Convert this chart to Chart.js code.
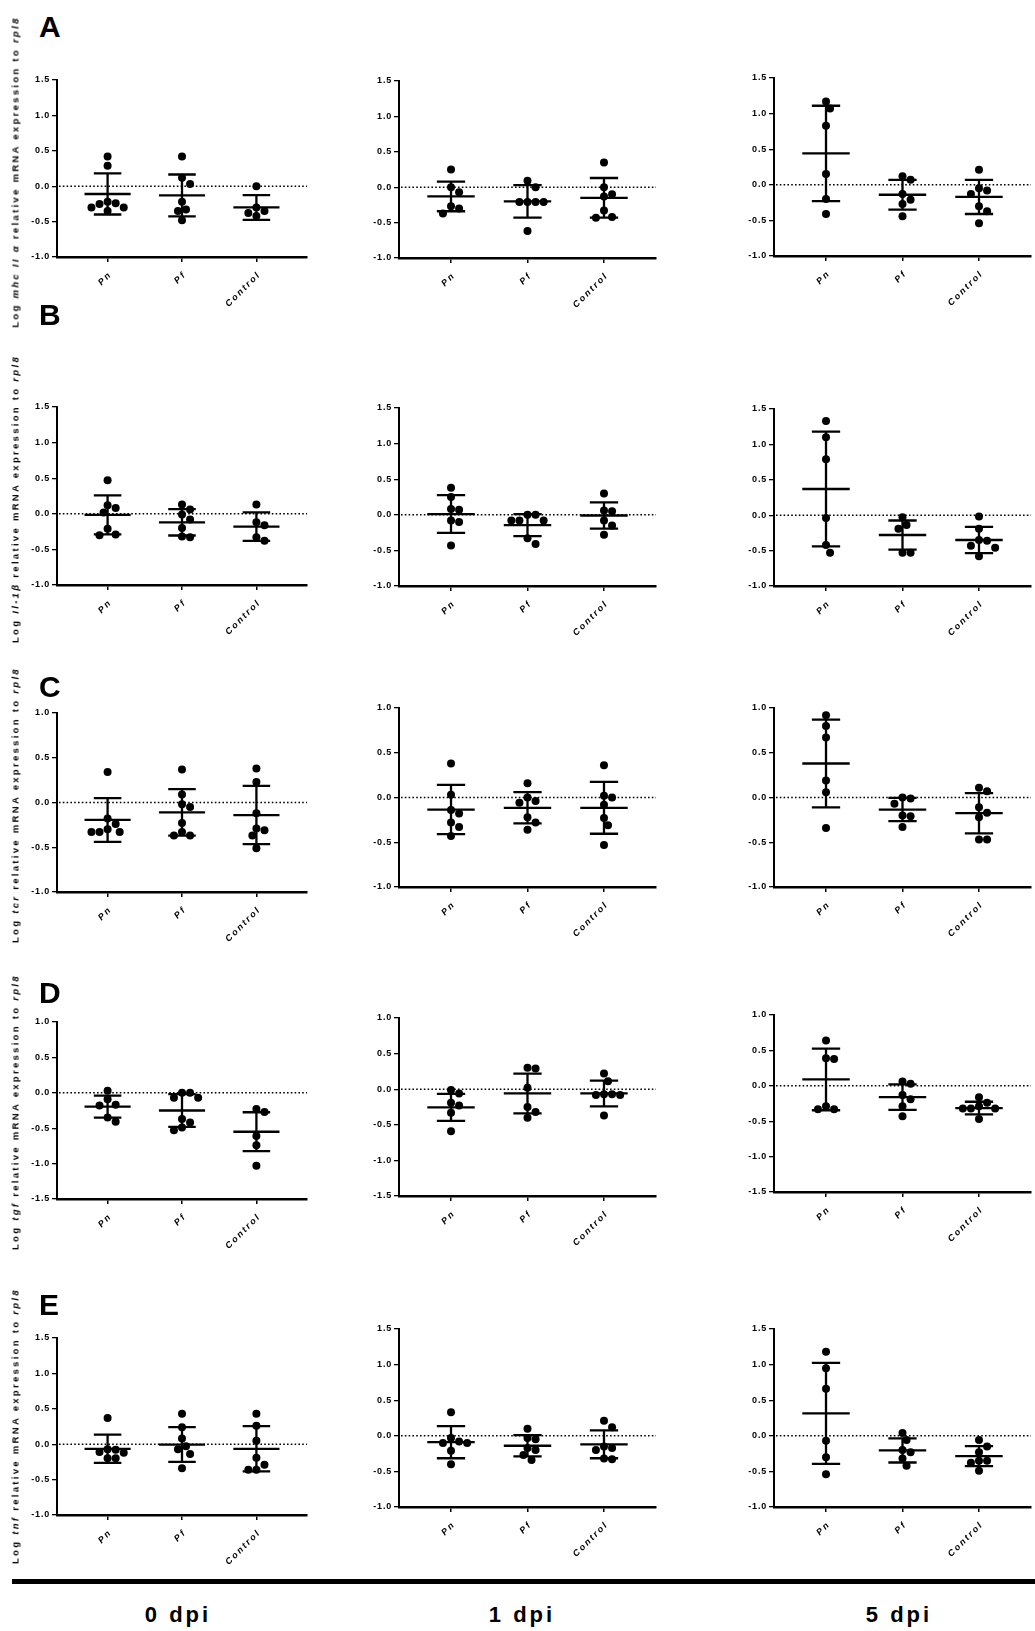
<!DOCTYPE html>
<html>
<head>
<meta charset="utf-8">
<script src="https://cdn.jsdelivr.net/npm/chart.js@4.4.0/dist/chart.umd.min.js"></script>
<style>
  body { margin: 0; background: #fff; width: 1035px; height: 1631px; position: relative; overflow: hidden;
         font-family: "Liberation Sans", Arial, sans-serif; }
  canvas.panel { position: absolute; }
  .letter { position: absolute; font-weight: bold; font-size: 30px; line-height: 1; }
  .ylab { position: absolute; white-space: nowrap; font-weight: bold; font-size: 9.5px; letter-spacing: 2.3px;
          transform: translate(-50%, -50%) rotate(-90deg); }
  .ylab i { font-style: italic; }
  .rule { position: absolute; left: 12px; right: 0; top: 1579px; height: 5px; background: #000; }
  .dpi { position: absolute; top: 1602px; font-weight: bold; font-size: 22px; letter-spacing: 3px;
         transform: translateX(-50%); white-space: nowrap; }
</style>
</head>
<body>
<script>
// ---- data ----
const groups = ["Pn", "Pf", "Control"];
const timepoints = ["0 dpi", "1 dpi", "5 dpi"];
const panelLetters = ["A", "B", "C", "D", "E"];

// y ranges per row
const yMins = [-1.0, -1.0, -1.0, -1.5, -1.0];
const yMaxs = [1.5, 1.5, 1.0, 1.0, 1.5];

// mhc II alpha
const mhc0 = [[0.42, 0.29, -0.24, -0.30, -0.35, -0.30, -0.25, -0.22], [0.42, 0.12, 0.03, -0.22, -0.33, -0.35, -0.48], [0.0, -0.35, -0.42, -0.38, -0.30]];
const mhc1 = [[0.25, 0.0, -0.07, -0.27, -0.30, -0.37], [0.09, 0.0, -0.21, -0.21, -0.21, -0.21, -0.62], [0.35, 0.0, -0.10, -0.13, -0.33, -0.42, -0.43]];
const mhc5 = [[1.17, 1.07, 0.83, 0.15, -0.20, -0.41], [0.12, 0.07, -0.13, -0.21, -0.27, -0.44], [0.21, -0.05, -0.08, -0.13, -0.30, -0.37, -0.54]];
const mhc0Mean = [-0.11, -0.13, -0.30], mhc0Sd = [0.29, 0.295, 0.175];
const mhc1Mean = [-0.13, -0.20, -0.15], mhc1Sd = [0.21, 0.23, 0.28];
const mhc5Mean = [0.44, -0.14, -0.17], mhc5Sd = [0.67, 0.21, 0.24];

// il-1 beta
const il0 = [[0.47, 0.12, 0.08, 0.02, -0.21, -0.30, -0.29], [0.13, 0.06, -0.01, -0.08, -0.20, -0.33, -0.32], [0.13, -0.12, -0.16, -0.38, -0.33]];
const il1 = [[0.38, 0.25, 0.08, 0.07, -0.08, -0.10, -0.43], [0.0, -0.08, -0.08, -0.08, 0.0, -0.33, -0.41], [0.30, 0.06, 0.05, -0.08, -0.15, -0.28]];
const il5 = [[1.33, 1.10, 0.79, -0.04, -0.42, -0.53], [-0.03, -0.19, -0.14, -0.53, -0.53], [-0.02, -0.19, -0.43, -0.35, -0.36, -0.46, -0.58]];
const il0Mean = [-0.015, -0.12, -0.18], il0Sd = [0.275, 0.185, 0.20];
const il1Mean = [0.01, -0.145, -0.01], il1Sd = [0.265, 0.155, 0.185];
const il5Mean = [0.37, -0.28, -0.35], il5Sd = [0.81, 0.205, 0.185];

// tcr
const tcr0 = [[0.34, -0.18, -0.24, -0.33, -0.33, -0.33, -0.30], [0.37, 0.09, -0.02, -0.05, -0.23, -0.33, -0.37, -0.37], [0.38, 0.23, -0.12, -0.31, -0.29, -0.37, -0.51]];
const tcr1 = [[0.38, 0.03, -0.18, -0.14, -0.28, -0.33, -0.43], [0.16, -0.04, -0.06, 0.0, -0.22, -0.28, -0.36], [0.36, 0.02, 0.0, -0.08, -0.23, -0.31, -0.53]];
const tcr5 = [[0.92, 0.80, 0.67, 0.19, 0.06, -0.34], [0.0, -0.01, -0.07, -0.20, -0.21, -0.33], [0.07, 0.11, -0.11, -0.17, -0.22, -0.47, -0.47]];
const tcr0Mean = [-0.195, -0.11, -0.14], tcr0Sd = [0.245, 0.26, 0.325];
const tcr1Mean = [-0.135, -0.115, -0.115], tcr1Sd = [0.275, 0.175, 0.29];
const tcr5Mean = [0.38, -0.135, -0.175], tcr5Sd = [0.49, 0.13, 0.225];

// tgf
const tgf0 = [[0.03, -0.09, -0.17, -0.18, -0.35, -0.41], [0.0, -0.07, -0.07, 0.0, -0.42, -0.37, -0.53, -0.49], [-0.27, -0.23, -0.61, -0.74, -1.03]];
const tgf1 = [[-0.01, -0.06, -0.19, -0.23, -0.33, -0.59], [0.30, 0.29, 0.02, -0.25, -0.32, -0.40], [0.22, 0.11, -0.07, -0.08, -0.08, -0.07, -0.37]];
const tgf5 = [[0.64, 0.39, 0.38, -0.29, -0.33, -0.33], [0.03, 0.06, -0.13, -0.19, -0.29, -0.43], [-0.16, -0.24, -0.29, -0.32, -0.32, -0.32, -0.47]];
const tgf0Mean = [-0.195, -0.25, -0.55], tgf0Sd = [0.155, 0.23, 0.275];
const tgf1Mean = [-0.255, -0.06, -0.06], tgf1Sd = [0.19, 0.28, 0.18];
const tgf5Mean = [0.09, -0.16, -0.315], tgf5Sd = [0.435, 0.18, 0.09];

// tnf
const tnf0 = [[0.37, -0.08, -0.12, -0.11, -0.07, -0.20, -0.20], [0.43, 0.24, 0.08, -0.03, -0.07, -0.14, -0.34], [0.43, 0.26, 0.05, -0.19, -0.29, -0.36, -0.36]];
const tnf1 = [[0.33, -0.03, -0.08, -0.10, -0.10, -0.21, -0.40], [0.10, -0.03, -0.05, -0.17, -0.20, -0.27, -0.34], [0.21, 0.12, -0.17, -0.20, -0.15, -0.33, -0.32]];
const tnf5 = [[1.18, 0.95, 0.66, -0.07, -0.30, -0.54], [0.04, -0.06, -0.20, -0.23, -0.32, -0.42], [-0.06, -0.15, -0.23, -0.35, -0.35, -0.38, -0.49]];
const tnf0Mean = [-0.065, -0.005, -0.065], tnf0Sd = [0.20, 0.245, 0.32];
const tnf1Mean = [-0.09, -0.14, -0.12], tnf1Sd = [0.225, 0.15, 0.195];
const tnf5Mean = [0.315, -0.205, -0.285], tnf5Sd = [0.71, 0.17, 0.14];

const rowPoints = [[mhc0, mhc1, mhc5], [il0, il1, il5], [tcr0, tcr1, tcr5], [tgf0, tgf1, tgf5], [tnf0, tnf1, tnf5]];
const rowMeans = [[mhc0Mean, mhc1Mean, mhc5Mean], [il0Mean, il1Mean, il5Mean], [tcr0Mean, tcr1Mean, tcr5Mean], [tgf0Mean, tgf1Mean, tgf5Mean], [tnf0Mean, tnf1Mean, tnf5Mean]];
const rowSds = [[mhc0Sd, mhc1Sd, mhc5Sd], [il0Sd, il1Sd, il5Sd], [tcr0Sd, tcr1Sd, tcr5Sd], [tgf0Sd, tgf1Sd, tgf5Sd], [tnf0Sd, tnf1Sd, tnf5Sd]];

// axis titles (gene names in italics)
const yTitles = [
  "Log <i>mhc II α</i> relative mRNA expression to <i>rpl8</i>",
  "Log <i>Il-1β</i> relative mRNA expression to <i>rpl8</i>",
  "Log <i>tcr</i> relative mRNA expression to <i>rpl8</i>",
  "Log <i>tgf</i> relative mRNA expression to <i>rpl8</i>",
  "Log <i>tnf</i> relative mRNA expression to <i>rpl8</i>"
];

// ---- layout ----
const colLeft = [57, 399, 774];
const colWidth = [254, 261, 261];
const plotTops = [[80, 81, 78], [407, 408, 409], [713, 708, 708], [1022, 1018, 1015], [1338, 1329, 1329]];
const plotBottoms = [[257, 258, 256], [585, 586, 586], [892, 887, 887], [1199, 1196, 1192], [1515, 1507, 1507]];
const letterTops = [12, 300, 672, 978, 1290];
const titleCenters = [172, 499, 805, 1112, 1426];
const dpiCenters = [178, 522, 899];

const X_MIN = -0.68, X_MAX = 2.68;
const PAD_L = 40, PAD_T = 8, PAD_B = 50;

// spread points that would overlap (beeswarm, pixel space -> data units)
function swarm(vals, pxX, pxY) {
  const d = 8.2;
  const order = vals.map((v, i) => i).sort((a, b) => vals[b] - vals[a]);
  const placed = [];
  const offs = new Array(vals.length);
  for (const i of order) {
    const y = vals[i] * pxY;
    for (let k = 0; k < 40; k++) {
      const cand = k === 0 ? [0] : [k * d / 2, -k * d / 2];
      const ok = cand.find(c => placed.every(p => Math.hypot(p.x - c, p.y - y) >= d));
      if (ok !== undefined) { offs[i] = ok; placed.push({ x: ok, y }); break; }
    }
  }
  return offs.map(o => o / pxX);
}

const zeroLine = {
  id: "zeroLine",
  beforeDraw(chart) {
    chart.ctx.letterSpacing = "0.8px";
  },
  beforeDatasetsDraw(chart) {
    const { ctx, chartArea, scales: { y } } = chart;
    const py = y.getPixelForValue(0);
    ctx.save();
    ctx.strokeStyle = "#000";
    ctx.lineWidth = 1.6;
    ctx.setLineDash([1.6, 2.2]);
    ctx.beginPath();
    ctx.moveTo(chartArea.left + 2, py);
    ctx.lineTo(chartArea.right, py);
    ctx.stroke();
    ctx.restore();
  }
};

const meanSd = {
  id: "meanSd",
  afterDatasetsDraw(chart, args, opts) {
    const { ctx, scales: { x, y } } = chart;
    ctx.save();
    ctx.strokeStyle = "#000";
    ctx.lineWidth = 2.3;
    opts.means.forEach((m, i) => {
      const s = opts.sds[i];
      const cx = x.getPixelForValue(i);
      const hw = x.getPixelForValue(i + 0.31) - cx;
      const cw = x.getPixelForValue(i + 0.185) - cx;
      const pm = y.getPixelForValue(m), pu = y.getPixelForValue(m + s), pl = y.getPixelForValue(m - s);
      ctx.beginPath();
      ctx.moveTo(cx - hw, pm); ctx.lineTo(cx + hw, pm);
      ctx.moveTo(cx, pu); ctx.lineTo(cx, pl);
      ctx.moveTo(cx - cw, pu); ctx.lineTo(cx + cw, pu);
      ctx.moveTo(cx - cw, pl); ctx.lineTo(cx + cw, pl);
      ctx.stroke();
    });
    ctx.restore();
  }
};

const groupLabels = {
  id: "groupLabels",
  afterDraw(chart) {
    const { ctx, chartArea, scales: { x } } = chart;
    ctx.save();
    ctx.fillStyle = "#000";
    ctx.font = "italic bold 9px 'Liberation Sans', Arial, sans-serif";
    ctx.letterSpacing = "2px";
    ctx.textAlign = "right";
    ctx.textBaseline = "middle";
    groups.forEach((g, i) => {
      ctx.save();
      ctx.translate(x.getPixelForValue(i) + 3, chartArea.bottom + 16);
      ctx.rotate(-Math.PI / 4);
      ctx.fillText(g, 0, 0);
      ctx.restore();
    });
    ctx.restore();
  }
};

function makePanel(r, c) {
  const top = plotTops[r][c], bottom = plotBottoms[r][c];
  const plotH = bottom - top, plotW = colWidth[c];
  const cv = document.createElement("canvas");
  cv.className = "panel";
  const w = plotW + PAD_L, h = plotH + PAD_T + PAD_B;
  cv.style.left = (colLeft[c] - PAD_L) + "px";
  cv.style.top = (top - PAD_T) + "px";
  cv.style.width = w + "px";
  cv.style.height = h + "px";
  cv.width = w; cv.height = h;
  document.body.appendChild(cv);

  const pxX = plotW / (X_MAX - X_MIN);
  const pxY = plotH / (yMaxs[r] - yMins[r]);
  const pts = [];
  rowPoints[r][c].forEach((vals, gi) => {
    const offs = swarm(vals, pxX, pxY);
    vals.forEach((v, k) => pts.push({ x: gi + offs[k], y: v }));
  });

  new Chart(cv.getContext("2d"), {
    type: "scatter",
    data: {
      datasets: [{
        data: pts,
        pointRadius: 4,
        pointHoverRadius: 4,
        pointBackgroundColor: "#000",
        pointBorderWidth: 0
      }]
    },
    options: {
      responsive: false,
      animation: false,
      events: [],
      layout: { padding: { top: PAD_T, left: 0, right: 0, bottom: 0 } },
      plugins: {
        legend: { display: false },
        tooltip: { enabled: false },
        meanSd: { means: rowMeans[r][c], sds: rowSds[r][c] }
      },
      scales: {
        x: {
          type: "linear",
          min: X_MIN,
          max: X_MAX,
          afterFit: s => { s.height = PAD_B; },
          afterBuildTicks: s => { s.ticks = [0, 1, 2].map(v => ({ value: v })); },
          ticks: { display: false },
          grid: { drawOnChartArea: false, drawTicks: true, tickLength: 5, color: "#000", lineWidth: 1.5 },
          border: { display: true, color: "#000", width: 2.6 }
        },
        y: {
          min: yMins[r],
          max: yMaxs[r],
          afterFit: s => { s.width = PAD_L; },
          ticks: {
            stepSize: 0.5,
            color: "#000",
            padding: 2,
            font: { family: "'Liberation Sans', Arial, sans-serif", size: 9, weight: "bold" },
            callback: v => Number(v).toFixed(1)
          },
          grid: { drawOnChartArea: false, drawTicks: true, tickLength: 5, color: "#000", lineWidth: 1.3 },
          border: { display: true, color: "#000", width: 2 }
        }
      }
    },
    plugins: [zeroLine, meanSd, groupLabels]
  });
}

for (let r = 0; r < 5; r++) {
  for (let c = 0; c < 3; c++) makePanel(r, c);

  const L = document.createElement("div");
  L.className = "letter";
  L.style.left = "39px";
  L.style.top = letterTops[r] + "px";
  L.textContent = panelLetters[r];
  document.body.appendChild(L);

  const t = document.createElement("div");
  t.className = "ylab";
  t.style.left = "15px";
  t.style.top = titleCenters[r] + "px";
  t.innerHTML = yTitles[r];
  document.body.appendChild(t);
}

const rule = document.createElement("div");
rule.className = "rule";
document.body.appendChild(rule);

timepoints.forEach((tp, i) => {
  const d = document.createElement("div");
  d.className = "dpi";
  d.style.left = dpiCenters[i] + "px";
  d.textContent = tp;
  document.body.appendChild(d);
});
</script>
</body>
</html>
